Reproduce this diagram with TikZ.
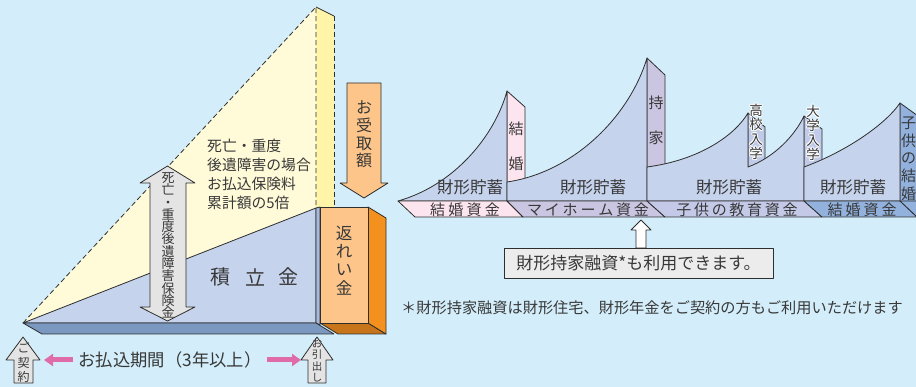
\documentclass[tikz,border=0pt]{standalone}
\usepackage{fontspec}
\setmainfont{Noto Sans CJK JP}
\usetikzlibrary{arrows.meta}
\definecolor{bg}{HTML}{D3EEFA}
\definecolor{tc}{HTML}{383838}
\definecolor{lc}{HTML}{2E2E2E}
\definecolor{yel}{HTML}{FFFAD8}
\definecolor{yel2}{HTML}{FFF4A8}
\definecolor{bl1}{HTML}{C6D3EC}
\definecolor{bl2}{HTML}{A9B9D9}
\definecolor{slab}{HTML}{7B98C0}
\definecolor{or1}{HTML}{FDC58A}
\definecolor{or2}{HTML}{F4911E}
\definecolor{or3}{HTML}{C8741A}
\definecolor{gr}{HTML}{E4E4E4}
\definecolor{pk}{HTML}{DF6CA8}
\definecolor{pk1}{HTML}{FDE5EF}
\definecolor{lav}{HTML}{CAC6E2}
\definecolor{lav2}{HTML}{C4C9E8}
\definecolor{stripb}{HTML}{BFCBE8}
\definecolor{blu}{HTML}{92B2DD}
\definecolor{boxc}{HTML}{ECECEC}
\makeatletter
\newcommand\spc[2]{\def\spc@sep{}\@tfor\spc@c:=#2\do{\spc@sep\spc@c\def\spc@sep{\kern#1pt}}}
\makeatother
\begin{document}
\begin{tikzpicture}[x=1pt,y=-1pt,line join=round,
  ol/.style={draw=lc,line width=0.8pt},
  dsh/.style={draw=lc,line width=0.8pt,dash pattern=on 5pt off 3pt},
  lbl/.style={text=tc,inner sep=0pt,align=center},
  pinkarr/.style={draw=pk,line width=5pt,-{Triangle[length=9pt,width=12pt]}}]
\fill[bg] (0,0) rectangle (916,387);
\useasboundingbox (0,0) rectangle (916,387);
\clip (0,0) rectangle (916,387);

% ---------- left diagram ----------
\fill[yel] (23,323) -- (316,7) -- (316,208) -- cycle;
\fill[yel2] (316,7) -- (334,16) -- (334,207) -- (316,208) -- cycle;
\draw[dsh] (23,323) -- (316,7) -- (316,208);
\draw[ol] (316,7) -- (334,16);
\draw[dsh] (334,16) -- (334,207);
\filldraw[ol,fill=bl1] (23,323) -- (316,208) -- (316,323) -- cycle;
\filldraw[ol,fill=bl2] (316,208) -- (320,207) -- (320,325) -- (316,323) -- cycle;
\filldraw[ol,fill=slab] (23,323) -- (316,323) -- (334,334) -- (42,334) -- cycle;
\filldraw[ol,fill=or3] (320,323) -- (368,323) -- (386,334) -- (338,334) -- cycle;
\filldraw[ol,fill=or2] (368,207) -- (386,218) -- (386,334) -- (368,323) -- cycle;
\filldraw[ol,fill=or1] (320,207) rectangle (368,323);
\node[lbl,font=\fontsize{16.5}{18.3}\selectfont] (henrei) at (344,260.5) {返\\れ\\い\\金};

% receive arrow
\filldraw[ol,fill=or1] (347,83) -- (381,83) -- (381,183) -- (388,183) -- (364,198) -- (340,183) -- (347,183) -- cycle;
\node[lbl,font=\fontsize{16}{17.7}\selectfont] (uketori) at (364,134.5) {お\\受\\取\\額};

% double arrow
\filldraw[ol,fill=gr] (167.5,166) -- (195,183) -- (186,183) -- (186,307) -- (195,307) -- (167.5,321) -- (140,307) -- (150,307) -- (150,183) -- (140,183) -- cycle;
\node[lbl,font=\fontsize{13}{12.3}\selectfont] (hoken) at (168,245.5) {死\\亡\\・\\重\\度\\後\\遺\\障\\害\\保\\険\\金};

\node[lbl,align=left,anchor=west,font=\fontsize{14.8}{19}\selectfont] (note5) at (207,174.5) {死亡・重度\\後遺障害の場合\\お払込保険料\\累計額の5倍};

\node[lbl,font=\fontsize{20}{20}\selectfont] (tsumi) at (220,277) {積};
\node[lbl,font=\fontsize{20}{20}\selectfont] (tate) at (255,277) {立};
\node[lbl,font=\fontsize{20}{20}\selectfont] (kin) at (288,277) {金};

% bottom arrows
\filldraw[ol,fill=gr] (23,337) -- (40,360) -- (33,360) -- (33,383) -- (14,383) -- (14,360) -- (6,360) -- cycle;
\node[lbl,font=\fontsize{12}{14.5}\selectfont] (keiyaku) at (23.5,362.5) {ご\\契\\約};
\filldraw[ol,fill=gr] (317,337) -- (333,360) -- (326,360) -- (326,383) -- (308,383) -- (308,360) -- (301,360) -- cycle;
\node[lbl,font=\fontsize{10.5}{11.4}\selectfont] (hikidashi) at (317,360.5) {お\\引\\出\\し};

\node[lbl,font=\fontsize{17.3}{17.3}\selectfont] (kikan) at (170,360) {お払込期間（3年以上）};
\coordinate (pa1) at (73,360); \coordinate (pa2) at (44,360);
\coordinate (pb1) at (267,360); \coordinate (pb2) at (301,360);
\draw[pinkarr] (pa1) -- (pa2);
\draw[pinkarr] (pb1) -- (pb2);

% ---------- right diagram ----------
% strips
\filldraw[ol,fill=pk1] (507,91) -- (525,107) -- (525,186) -- (507,186) -- cycle;
\filldraw[ol,fill=lav] (647,58) -- (665,75) -- (665,172) -- (647,172) -- cycle;
\filldraw[ol,fill=stripb] (748,113) -- (765,127) -- (765,172) -- (748,172) -- cycle;
\filldraw[ol,fill=stripb] (804,116) -- (822,129) -- (822,172) -- (804,172) -- cycle;
\filldraw[ol,fill=blu] (900,103) -- (918,116) -- (918,205) -- (900,205) -- cycle;
% sails
\filldraw[ol,fill=bl1] (398,201) .. controls (455,185) and (495,135) .. (507,91) -- (507,201) -- cycle;
\filldraw[ol,fill=bl1] (507,182) .. controls (575,172) and (630,115) .. (647,58) -- (647,201) -- (507,201) -- cycle;
\filldraw[ol,fill=bl1] (647,167) .. controls (700,160) and (735,135) .. (748,113) -- (748,167)
   .. controls (775,157) and (795,135) .. (804,116) -- (804,201) -- (647,201) -- cycle;
\filldraw[ol,fill=bl1] (804,167) .. controls (845,152) and (885,125) .. (900,103) -- (900,201) -- (804,201) -- cycle;
% bands
\filldraw[ol,fill=pk1] (398,201) -- (507,201) -- (523,217) -- (415,217) -- cycle;
\filldraw[ol,fill=lav] (507,201) -- (647,201) -- (665,217) -- (523,217) -- cycle;
\filldraw[ol,fill=lav2] (647,201) -- (804,201) -- (822,217) -- (665,217) -- cycle;
\filldraw[ol,fill=blu] (804,201) -- (900,201) -- (917,217) -- (822,217) -- cycle;
\filldraw[ol,fill=blu] (900,201) -- (930,201) -- (930,217) -- (917,217) -- cycle;

\node[lbl,font=\fontsize{16.5}{16.5}\selectfont] (z1) at (470,187) {財形貯蓄};
\node[lbl,font=\fontsize{16.5}{16.5}\selectfont] (z2) at (593,187) {財形貯蓄};
\node[lbl,font=\fontsize{16.5}{16.5}\selectfont] (z3) at (729,187) {財形貯蓄};
\node[lbl,font=\fontsize{16.5}{16.5}\selectfont] (z4) at (853,187) {財形貯蓄};

\node[lbl,font=\fontsize{15}{15}\selectfont] (b1) at (465,209.5) {\spc{3.3}{結婚資金}};
\node[lbl,font=\fontsize{15}{15}\selectfont] (b2) at (588,209.5) {\spc{2.8}{マイホーム資金}};
\node[lbl,font=\fontsize{15}{15}\selectfont] (b3) at (737,209.5) {\spc{2.7}{子供の教育資金}};
\node[lbl,font=\fontsize{15}{15}\selectfont] (b4) at (862,209.5) {\spc{3.0}{結婚資金}};

\node[lbl,font=\fontsize{15}{35}\selectfont] (kekkon) at (516,146.5) {結\\婚};
\node[lbl,font=\fontsize{15}{35}\selectfont] (mochiie) at (656,120.5) {持\\家};
\foreach \dx/\dy [count=\i] in {-0.9/0,0.9/0,0/-0.9,0/0.9,-0.7/-0.7,0.7/0.7,-0.7/0.7,0.7/-0.7}{
  \node[lbl,text=white,font=\fontsize{13.5}{14.3}\selectfont] (kw\i) at (756+\dx,132+\dy) {高\\校\\入\\学};
  \node[lbl,text=white,font=\fontsize{13.5}{14.3}\selectfont] (dw\i) at (813+\dx,133+\dy) {大\\学\\入\\学};
}
\node[lbl,font=\fontsize{13.5}{14.3}\selectfont] (koko) at (756,132) {高\\校\\入\\学};
\node[lbl,font=\fontsize{13.5}{14.3}\selectfont] (daigaku) at (813,133) {大\\学\\入\\学};
\node[lbl,font=\fontsize{15}{17.7}\selectfont] (kodomo) at (908.5,158.5) {子\\供\\の\\結\\婚};

% loan box
\node[draw=lc,fill=boxc,line width=0.8pt,text=tc,inner sep=0pt,minimum width=269pt,minimum height=30pt,font=\fontsize{17}{17}\selectfont] (box) at (638.5,263) {財形持家融資*も利用できます。};
\filldraw[ol,fill=white] (641,220) -- (651,230) -- (646,230) -- (646,248) -- (636,248) -- (636,230) -- (631,230) -- cycle;

\node[lbl,anchor=west,font=\fontsize{15.2}{15.2}\selectfont] (foot) at (401,308) {＊財形持家融資は財形住宅、財形年金をご契約の方もご利用いただけます};
\end{tikzpicture}
\end{document}
